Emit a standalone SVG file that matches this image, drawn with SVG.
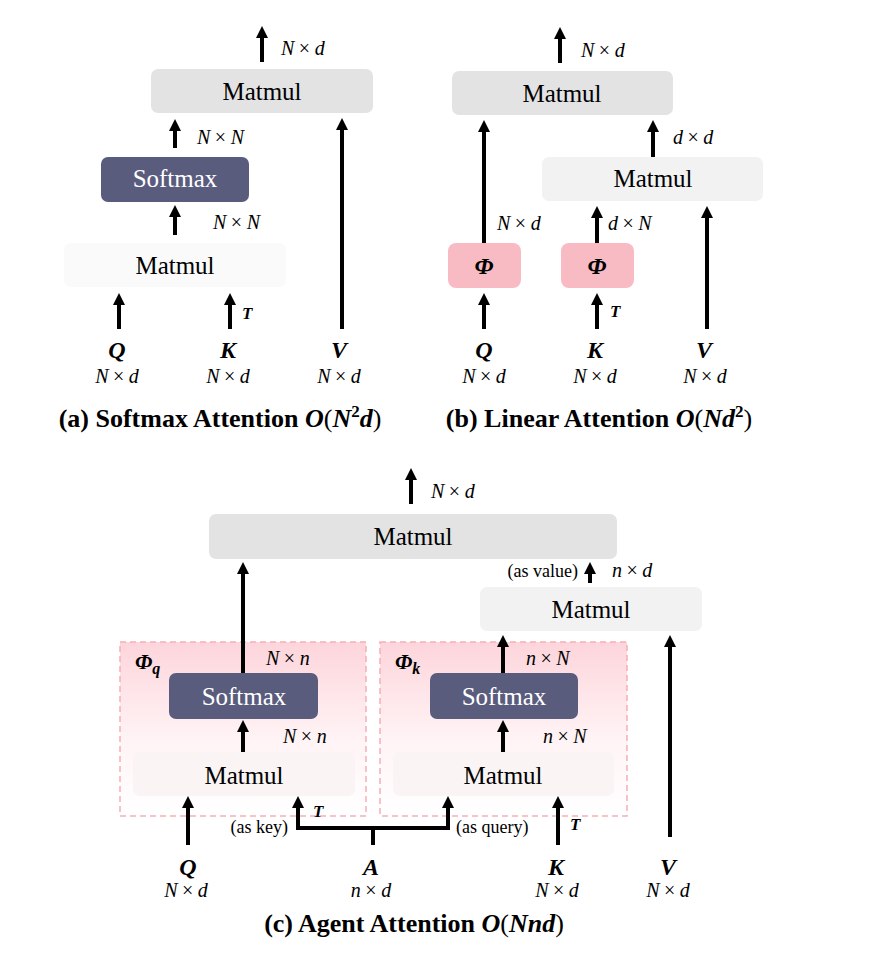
<svg xmlns="http://www.w3.org/2000/svg" width="878" height="964" viewBox="0 0 878 964">
<style>
text{font-family:"Liberation Serif","Times New Roman",serif;fill:#000}
.op{font-size:25px;text-anchor:middle}
.w{fill:#fff}
.m{font-size:20px;font-style:italic}
.mc{font-size:20px;font-style:italic;text-anchor:middle}
.u{font-style:normal}
.v{font-size:24px;font-style:italic;font-weight:bold;text-anchor:middle}
.t{font-size:17px;font-style:italic;font-weight:bold}
.ph{font-size:24px;font-style:italic;font-weight:bold;text-anchor:middle}
.sm{font-size:18px}
.cap{font-size:26px;font-weight:bold;text-anchor:middle}
.g1{fill:#e3e3e3}
.g2{fill:#f2f2f2}
.g3{fill:#fafafa}
.g4{fill:#faf4f5}
.sf{fill:#5a5c7e}
.pk{fill:#f8bbc3}
.dash{fill:url(#pg);stroke:#f6aeb7;stroke-width:1.5;stroke-dasharray:6 4}
.a{stroke:#000;stroke-width:4;fill:none;marker-end:url(#ah)}
.l{stroke:#000;stroke-width:4;fill:none}
</style>
<defs>
<marker id="ah" viewBox="0 0 12 12" refX="1" refY="6" markerWidth="12" markerHeight="12" markerUnits="userSpaceOnUse" orient="auto"><path d="M0,0 L12,6 L0,12 z" fill="#000"/></marker>
<linearGradient id="pg" x1="0" y1="0" x2="0" y2="1">
<stop offset="0" stop-color="#fdd5db"/>
<stop offset="0.55" stop-color="#fff3f5"/>
<stop offset="1" stop-color="#ffffff"/>
</linearGradient>
</defs>
<rect width="878" height="964" fill="#fff"/>

<!-- Panel (a) -->
<g id="a-matmul-top"><rect class="g1" x="151" y="69" width="222" height="44" rx="7"/><text class="op" x="262" y="100">Matmul</text></g>
<g id="a-softmax"><rect class="sf" x="101" y="157" width="148" height="45" rx="7"/><text class="op w" x="175" y="187">Softmax</text></g>
<g id="a-matmul-low"><rect class="g3" x="64" y="243" width="222" height="44" rx="7"/><text class="op" x="175" y="274">Matmul</text></g>
<g id="a-Q"><text class="v" x="117" y="358">Q</text><text class="mc" x="117" y="383">N<tspan class="u" dx="4.5">×</tspan><tspan dx="4.5">d</tspan></text></g>
<g id="a-K"><text class="v" x="228" y="358">K</text><text class="mc" x="228" y="383">N<tspan class="u" dx="4.5">×</tspan><tspan dx="4.5">d</tspan></text></g>
<g id="a-V"><text class="v" x="339" y="358">V</text><text class="mc" x="339" y="383">N<tspan class="u" dx="4.5">×</tspan><tspan dx="4.5">d</tspan></text></g>
<g id="a-labels">
<text class="m" x="281" y="55">N<tspan class="u" dx="4.5">×</tspan><tspan dx="4.5">d</tspan></text>
<text class="m" x="197" y="144">N<tspan class="u" dx="4.5">×</tspan><tspan dx="4.5">N</tspan></text>
<text class="m" x="213" y="229">N<tspan class="u" dx="4.5">×</tspan><tspan dx="4.5">N</tspan></text>
<text class="t" x="242" y="319">T</text>
<text class="cap" x="220" y="427">(a) Softmax Attention <tspan font-style="italic">O</tspan><tspan font-weight="normal">(</tspan><tspan font-style="italic">N</tspan><tspan font-size="17" dy="-10">2</tspan><tspan font-style="italic" dy="10">d</tspan><tspan font-weight="normal">)</tspan></text>
</g>

<!-- Panel (b) -->
<g id="b-matmul-top"><rect class="g1" x="452" y="71" width="221" height="44" rx="7"/><text class="op" x="562" y="102">Matmul</text></g>
<g id="b-matmul-low"><rect class="g2" x="542" y="157" width="221" height="44" rx="7"/><text class="op" x="653" y="187">Matmul</text></g>
<g id="b-phi-q"><rect class="pk" x="448" y="243" width="73" height="45" rx="8"/><text class="ph" x="484" y="274">Φ</text></g>
<g id="b-phi-k"><rect class="pk" x="561" y="243" width="73" height="45" rx="8"/><text class="ph" x="597" y="274">Φ</text></g>
<g id="b-Q"><text class="v" x="484" y="358">Q</text><text class="mc" x="484" y="383">N<tspan class="u" dx="4.5">×</tspan><tspan dx="4.5">d</tspan></text></g>
<g id="b-K"><text class="v" x="595" y="358">K</text><text class="mc" x="595" y="383">N<tspan class="u" dx="4.5">×</tspan><tspan dx="4.5">d</tspan></text></g>
<g id="b-V"><text class="v" x="704" y="358">V</text><text class="mc" x="705" y="383">N<tspan class="u" dx="4.5">×</tspan><tspan dx="4.5">d</tspan></text></g>
<g id="b-labels">
<text class="m" x="581" y="57">N<tspan class="u" dx="4.5">×</tspan><tspan dx="4.5">d</tspan></text>
<text class="m" x="673" y="144">d<tspan class="u" dx="4.5">×</tspan><tspan dx="4.5">d</tspan></text>
<text class="m" x="497" y="230">N<tspan class="u" dx="4.5">×</tspan><tspan dx="4.5">d</tspan></text>
<text class="m" x="608" y="230">d<tspan class="u" dx="4.5">×</tspan><tspan dx="4.5">N</tspan></text>
<text class="t" x="610" y="317">T</text>
<text class="cap" x="599" y="427">(b) Linear Attention <tspan font-style="italic">O</tspan><tspan font-weight="normal">(</tspan><tspan font-style="italic">Nd</tspan><tspan font-size="17" dy="-10">2</tspan><tspan font-weight="normal" dy="10">)</tspan></text>
</g>

<!-- Panel (c) -->
<g id="c-phi-q-group"><rect class="dash" x="120" y="642" width="246" height="174"/><text x="135" y="669" font-size="22" font-style="italic" font-weight="bold">Φ<tspan font-size="16" dy="5">q</tspan></text></g>
<g id="c-phi-k-group"><rect class="dash" x="380" y="642" width="247" height="174"/><text x="395" y="669" font-size="22" font-style="italic" font-weight="bold">Φ<tspan font-size="16" dy="5">k</tspan></text></g>
<g id="c-matmul-top"><rect class="g1" x="209" y="514" width="408" height="45" rx="7"/><text class="op" x="413" y="545">Matmul</text></g>
<g id="c-matmul-right"><rect class="g2" x="480" y="587" width="222" height="44" rx="7"/><text class="op" x="591" y="618">Matmul</text></g>
<g id="c-softmax-q"><rect class="sf" x="169" y="673" width="149" height="46" rx="7"/><text class="op w" x="244" y="705">Softmax</text></g>
<g id="c-softmax-k"><rect class="sf" x="430" y="673" width="148" height="46" rx="7"/><text class="op w" x="504" y="705">Softmax</text></g>
<g id="c-matmul-q"><rect class="g4" x="133" y="752" width="222" height="44" rx="7"/><text class="op" x="244" y="784">Matmul</text></g>
<g id="c-matmul-k"><rect class="g4" x="393" y="752" width="221" height="44" rx="7"/><text class="op" x="503" y="784">Matmul</text></g>
<g id="c-Q"><text class="v" x="188" y="875">Q</text><text class="mc" x="186" y="897">N<tspan class="u" dx="4.5">×</tspan><tspan dx="4.5">d</tspan></text></g>
<g id="c-A"><text class="v" x="371" y="875">A</text><text class="mc" x="371" y="897">n<tspan class="u" dx="4.5">×</tspan><tspan dx="4.5">d</tspan></text></g>
<g id="c-K"><text class="v" x="556" y="875">K</text><text class="mc" x="557" y="897">N<tspan class="u" dx="4.5">×</tspan><tspan dx="4.5">d</tspan></text></g>
<g id="c-V"><text class="v" x="668" y="875">V</text><text class="mc" x="668" y="897">N<tspan class="u" dx="4.5">×</tspan><tspan dx="4.5">d</tspan></text></g>
<g id="c-labels">
<text class="m" x="431" y="498">N<tspan class="u" dx="4.5">×</tspan><tspan dx="4.5">d</tspan></text>
<text class="sm" x="578" y="577" text-anchor="end">(as value)</text>
<text class="m" x="612" y="577">n<tspan class="u" dx="4.5">×</tspan><tspan dx="4.5">d</tspan></text>
<text class="m" x="266" y="665">N<tspan class="u" dx="4.5">×</tspan><tspan dx="4.5">n</tspan></text>
<text class="m" x="283" y="743">N<tspan class="u" dx="4.5">×</tspan><tspan dx="4.5">n</tspan></text>
<text class="m" x="526" y="665">n<tspan class="u" dx="4.5">×</tspan><tspan dx="4.5">N</tspan></text>
<text class="m" x="543" y="743">n<tspan class="u" dx="4.5">×</tspan><tspan dx="4.5">N</tspan></text>
<text class="sm" x="288" y="833" text-anchor="end">(as key)</text>
<text class="sm" x="456" y="833">(as query)</text>
<text class="t" x="313" y="817">T</text>
<text class="t" x="570" y="830">T</text>
<text class="cap" x="414" y="932">(c) Agent Attention <tspan font-style="italic">O</tspan><tspan font-weight="normal">(</tspan><tspan font-style="italic">Nnd</tspan><tspan font-weight="normal">)</tspan></text>
</g>

<g id="connectors">
<line class="a" x1="262" y1="62" x2="262" y2="37"/>
<line class="a" x1="175" y1="148" x2="175" y2="130"/>
<line class="a" x1="175" y1="235" x2="175" y2="216"/>
<line class="a" x1="119" y1="329" x2="119" y2="304"/>
<line class="a" x1="230" y1="329" x2="230" y2="304"/>
<line class="a" x1="342" y1="329" x2="342" y2="129"/>

<line class="a" x1="560" y1="63" x2="560" y2="38"/>
<line class="a" x1="484" y1="243" x2="484" y2="131"/>
<line class="a" x1="653" y1="157" x2="653" y2="131"/>
<line class="a" x1="597" y1="243" x2="597" y2="217"/>
<line class="a" x1="484" y1="329" x2="484" y2="304"/>
<line class="a" x1="597" y1="329" x2="597" y2="304"/>
<line class="a" x1="707" y1="329" x2="707" y2="217"/>

<line class="a" x1="411" y1="504" x2="411" y2="479"/>
<line class="a" x1="243" y1="673" x2="243" y2="573"/>
<line class="a" x1="590" y1="583" x2="590" y2="573"/>
<line class="a" x1="503" y1="673" x2="503" y2="646"/>
<line class="a" x1="670" y1="837" x2="670" y2="646"/>
<line class="a" x1="243" y1="752" x2="243" y2="731"/>
<line class="a" x1="503" y1="752" x2="503" y2="731"/>
<line class="a" x1="188" y1="845" x2="188" y2="807"/>
<line class="a" x1="558" y1="845" x2="558" y2="807"/>
<line class="a" x1="298" y1="830" x2="298" y2="807"/>
<line class="a" x1="448" y1="830" x2="448" y2="807"/>
<line class="l" x1="296" y1="828" x2="450" y2="828"/>
<line class="l" x1="373" y1="828" x2="373" y2="845"/>
</g>
</svg>
